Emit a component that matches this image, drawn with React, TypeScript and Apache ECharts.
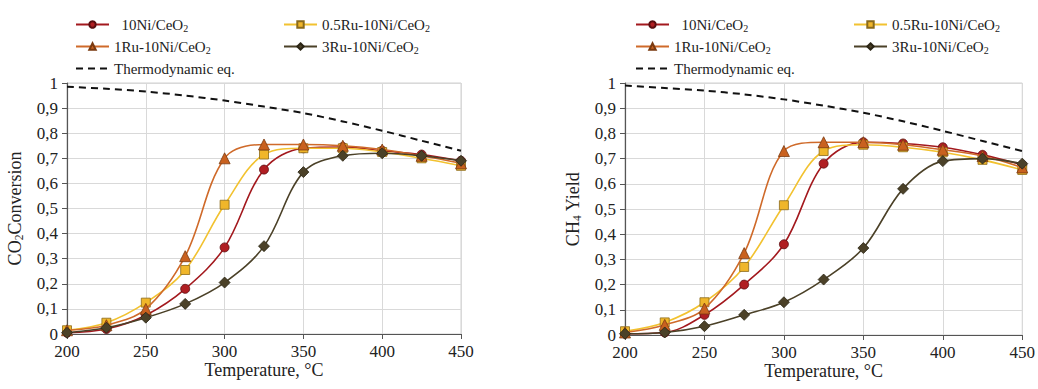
import React, { useEffect, useRef } from "react";
import * as echarts from "echarts";

const temps = [200, 225, 250, 275, 300, 325, 350, 375, 400, 425, 450];

const seriesNames = ["10Ni/CeO2", "0.5Ru-10Ni/CeO2", "1Ru-10Ni/CeO2", "3Ru-10Ni/CeO2", "Thermodynamic eq."];

// CO2 conversion (left panel)
const co2_10Ni = [0.005, 0.02, 0.075, 0.18, 0.345, 0.655, 0.74, 0.745, 0.73, 0.715, 0.69];
const co2_05Ru = [0.015, 0.045, 0.125, 0.255, 0.515, 0.715, 0.74, 0.74, 0.725, 0.7, 0.67];
const co2_1Ru = [0.015, 0.035, 0.1, 0.31, 0.7, 0.755, 0.755, 0.75, 0.735, 0.71, 0.68];
const co2_3Ru = [0.005, 0.025, 0.065, 0.12, 0.205, 0.35, 0.645, 0.71, 0.72, 0.71, 0.69];
const co2_thermo = [0.985, 0.977, 0.966, 0.95, 0.93, 0.906, 0.88, 0.847, 0.81, 0.77, 0.73];

// CH4 yield (right panel)
const ch4_10Ni = [0.005, 0.01, 0.08, 0.2, 0.36, 0.68, 0.765, 0.76, 0.745, 0.715, 0.675];
const ch4_05Ru = [0.015, 0.05, 0.13, 0.27, 0.515, 0.73, 0.755, 0.745, 0.725, 0.695, 0.655];
const ch4_1Ru = [0.01, 0.04, 0.105, 0.325, 0.73, 0.765, 0.765, 0.755, 0.735, 0.71, 0.665];
const ch4_3Ru = [0.005, 0.01, 0.035, 0.08, 0.13, 0.22, 0.345, 0.58, 0.69, 0.7, 0.68];
const ch4_thermo = [0.99, 0.98, 0.97, 0.955, 0.935, 0.91, 0.882, 0.848, 0.81, 0.77, 0.73];

const xTicks = { min: 200, max: 450, interval: 50 };
const yTicks = { min: 0, max: 1, interval: 0.1 };
const xTitle = "Temperature, °C";

const FONT = "Liberation Serif";

const styles = [
  { line: "#A3191E", fill: "#B01E22", border: "#5a0d10", symbol: "circle", size: 9 },
  { line: "#F2C230", fill: "#F0B62A", border: "#8a6a1a", symbol: "rect", size: 9 },
  { line: "#CF6A2A", fill: "#C9611F", border: "#7a3a10", symbol: "triangle", size: 11 },
  { line: "#4B4128", fill: "#4B4128", border: "#2a2414", symbol: "diamond", size: 11 },
];

function sub(name: string) {
  return name.replace(/(\d)$/, "{s|$1}");
}

export default function App() {
  const ref = useRef<HTMLDivElement>(null);
  useEffect(() => {
    if (!ref.current) return;
    const chart = echarts.init(ref.current, null, { renderer: "svg" });
    const panels = [
      [co2_10Ni, co2_05Ru, co2_1Ru, co2_3Ru, co2_thermo],
      [ch4_10Ni, ch4_05Ru, ch4_1Ru, ch4_3Ru, ch4_thermo],
    ];
    const series: any[] = [];
    panels.forEach((sets, pi) => {
      sets.forEach((vals, si) => {
        const data = temps.map((t, i) => [t, vals[i]]);
        if (si === 4) {
          series.push({
            name: seriesNames[si], type: "line", xAxisIndex: pi, yAxisIndex: pi,
            data, smooth: 0.3, symbol: "none",
            lineStyle: { color: "#111", width: 2, type: [7, 5] },
            itemStyle: { color: "#111" }, z: 1,
          });
        } else {
          const s = styles[si];
          series.push({
            name: seriesNames[si], type: "line", xAxisIndex: pi, yAxisIndex: pi,
            data, smooth: 0.35, symbol: s.symbol, symbolSize: s.size,
            showAllSymbol: true,
            lineStyle: { color: s.line, width: 1.6 },
            itemStyle: { color: s.fill, borderColor: s.border, borderWidth: 0.8 },
            z: 2 + si,
          });
        }
      });
    });

    const txt = { fontFamily: FONT, color: "#222" };
    const legendRich = { s: { ...txt, fontSize: 10, padding: [7, 0, 0, 0] } };
    const nameRich = {
      t: { ...txt, fontSize: 18 },
      s: { ...txt, fontSize: 11.5, padding: [9, 0, 0, 0] },
    };
    const labelStyle = { fontFamily: FONT, fontSize: 17, color: "#222" };
    const legendItem = (n: string) =>
      n === "Thermodynamic eq." ? { name: n, itemStyle: { opacity: 0 } } : { name: n };
    const legendBase = (left: number, data: string[]) => ({
      left, top: 11, orient: "vertical", itemWidth: 33, itemHeight: 8, itemGap: 5,
      data: data.map(legendItem), selectedMode: false,
      formatter: (n: string) => (n === "10Ni/CeO2" ? "  " : "") + sub(n),
      textStyle: { ...txt, fontSize: 15, lineHeight: 17, rich: legendRich },
    });

    const xAxisBase = (gi: number) => ({
      type: "value", gridIndex: gi, ...xTicks,
      name: `{t|${xTitle}}`, nameLocation: "middle", nameGap: 27, nameMoveOverlap: false,
      nameTextStyle: { ...txt, fontSize: 18, rich: nameRich },
      axisLine: { lineStyle: { color: "#555", width: 1.2 } },
      axisTick: { show: true, length: 5, lineStyle: { color: "#555" } },
      axisLabel: {
        ...labelStyle, margin: 9, textStyle: { ...labelStyle },
      },
      splitLine: { show: true, lineStyle: { color: "#d9d9d9" } },
    });
    const yAxisBase = (gi: number, name: string) => ({
      type: "value", gridIndex: gi, ...yTicks,
      name, nameLocation: "middle", nameGap: 42, nameMoveOverlap: false,
      nameTextStyle: { ...txt, fontSize: 18, rich: nameRich },
      axisLine: { show: true, lineStyle: { color: "#555", width: 1.2 } },
      axisTick: { show: true, length: 5, lineStyle: { color: "#555" } },
      axisLabel: {
        ...labelStyle, margin: 9, textStyle: { ...labelStyle },
        formatter: (v: number) => (v === 0 ? "0" : v === 1 ? "1" : v.toFixed(1).replace(".", ",")),
      },
      splitLine: { show: true, lineStyle: { color: "#d9d9d9" } },
    });

    chart.setOption({
      animation: false,
      backgroundColor: "#fff",
      textStyle: { fontFamily: FONT, fontSize: 17, color: "#222" },
      grid: [
        { left: 67, right: 577, top: 83, bottom: 55, show: true, borderColor: "#d0d0d0", borderWidth: 1 },
        { left: 625, right: 15, top: 83, bottom: 54, show: true, borderColor: "#d0d0d0", borderWidth: 1 },
      ],
      legend: [
        legendBase(70, [seriesNames[0], seriesNames[2], seriesNames[4]]),
        legendBase(278, [seriesNames[1], seriesNames[3]]),
        legendBase(630, [seriesNames[0], seriesNames[2], seriesNames[4]]),
        legendBase(848, [seriesNames[1], seriesNames[3]]),
      ],
      xAxis: [xAxisBase(0), xAxisBase(1)],
      yAxis: [
        yAxisBase(0, "{t|CO}{s|2}{t|Conversion}"),
        yAxisBase(1, "{t|CH}{s|4}{t| Yield}"),
      ],
      series,
    });
    return () => chart.dispose();
  }, []);
  return (
    <div
      ref={ref}
      style={{ position: "absolute", left: 0, top: 0, width: 1038, height: 389, background: "#fff" }}
    />
  );
}
